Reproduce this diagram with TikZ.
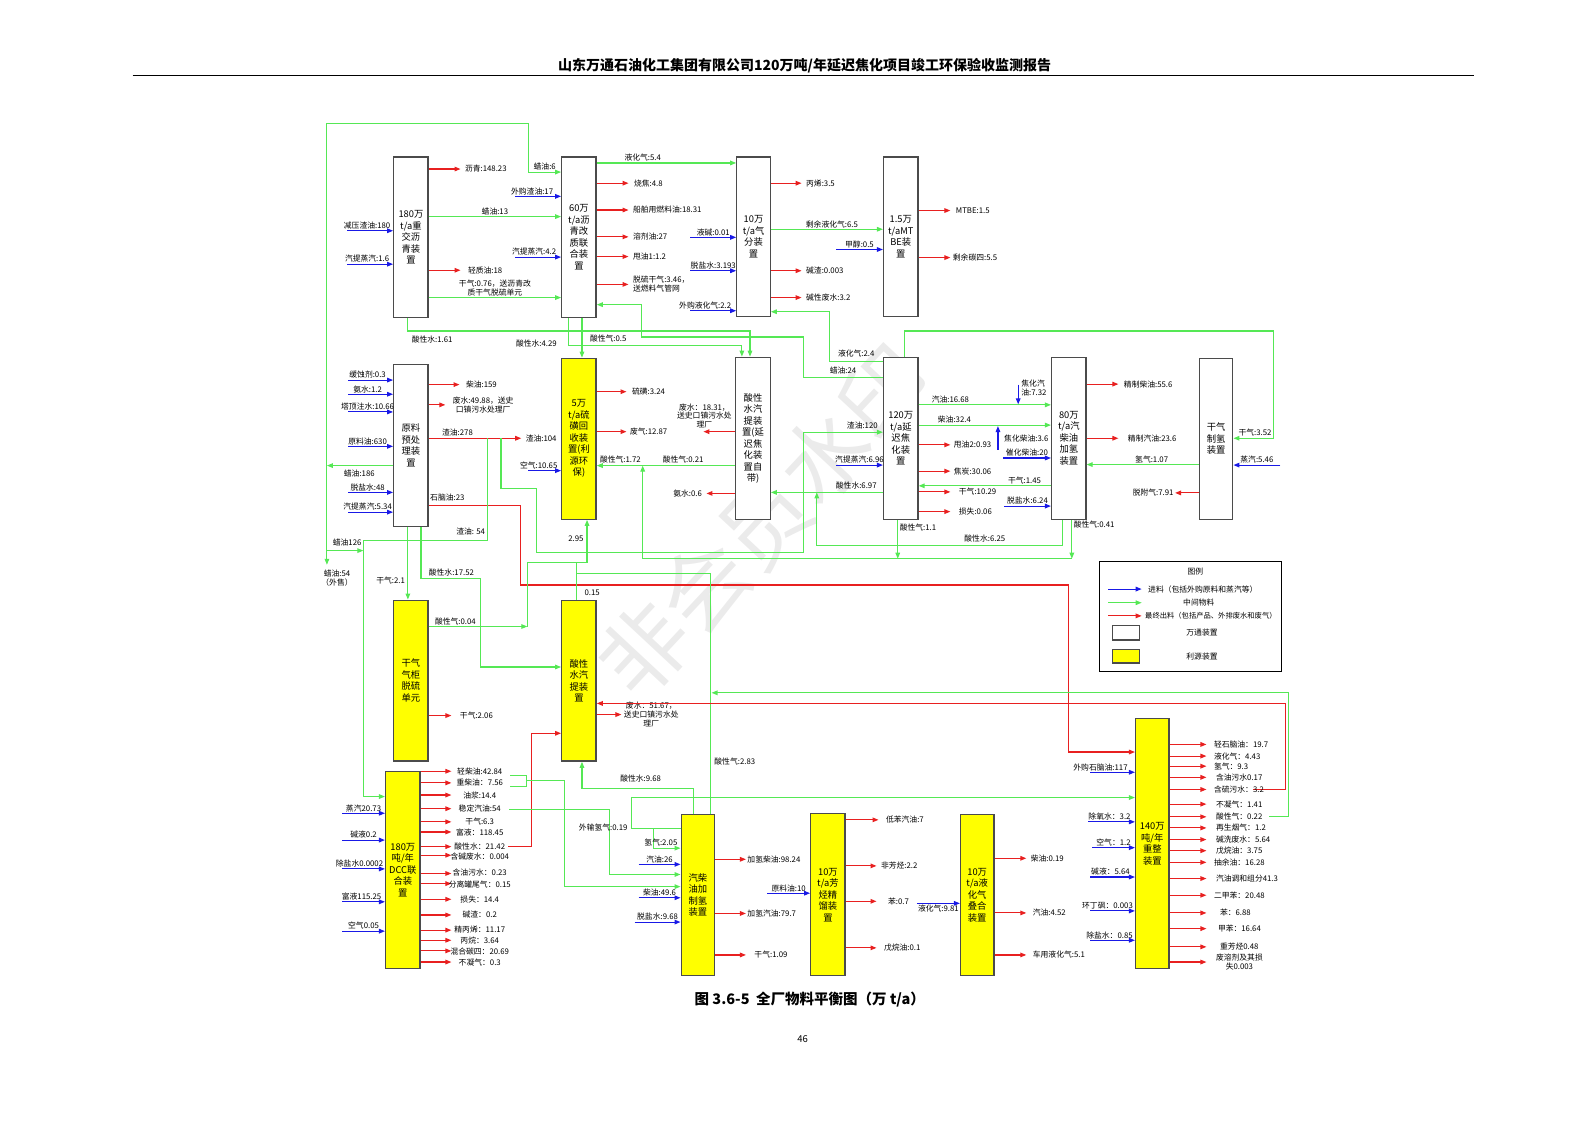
\documentclass[tikz,border=0pt]{standalone}
\usepackage{fontspec}
\setmainfont{Noto Sans CJK SC}
\usepackage{tikz}
\usetikzlibrary{arrows.meta}
\newcommand{\pxu}{1.0121pt}
\newcommand{\labfont}{\fontsize{7.8}{8.8}\selectfont}
\newcommand{\boxfont}{\fontsize{9.3}{11.5}\selectfont}
\definecolor{inblue}{RGB}{25,25,230}
\definecolor{midgreen}{RGB}{85,232,85}
\definecolor{outred}{RGB}{232,32,32}
\definecolor{unityellow}{RGB}{255,255,0}
\definecolor{boxgray}{RGB}{75,75,75}

\begin{document}
\begin{tikzpicture}[x=\pxu, y=-\pxu,
  feedline/.style={draw=inblue, line width=1.1pt, -{Triangle[length=6pt,width=4.6pt]}},
  midline/.style={draw=midgreen, line width=1.1pt, -{Triangle[length=6pt,width=4.6pt]}},
  midpath/.style={draw=midgreen, line width=1.1pt},
  prodline/.style={draw=outred, line width=1.1pt, -{Triangle[length=6pt,width=4.6pt]}},
  lab/.style={font=\labfont, inner sep=1pt, align=center},
  wbox/.style={draw=boxgray, line width=1.3pt, fill=white, inner sep=0pt, align=center, font=\boxfont},
  ybox/.style={wbox, fill=unityellow},
  sz/.style 2 args={minimum width=#1*\pxu, minimum height=#2*\pxu}]
  \useasboundingbox (0,0) rectangle (1568,1109);

  \node[rotate=47, text=black!8, font=\fontsize{88}{88}\selectfont] (wmark) at (755,515) {非会员水印};

  \node[font=\bfseries\fontsize{14}{16}\selectfont] (title) at (795,65) {山东万通石油化工集团有限公司120万吨/年延迟焦化项目竣工环保验收监测报告};
  \draw[line width=0.8pt] (131,74) -- (1456,74);
  \node[font=\bfseries\fontsize{14.5}{16}\selectfont] (caption) at (800,988) {图 3.6-5\ \ 全厂物料平衡图（万 t/a）};
  \node[font=\fontsize{9.5}{11}\selectfont] (pageno) at (793,1027) {46};

  \node[wbox, sz={34}{159}] (B180) at (406,234.5) {180万\\t/a重\\交沥\\青装\\置};
  \node[wbox, sz={34}{159}] (B60) at (572,234.5) {60万\\t/a沥\\青改\\质联\\合装\\置};
  \node[wbox, sz={33}{158}] (Bgas) at (744.5,234) {10万\\t/a气\\分装\\置};
  \node[wbox, sz={34}{158}] (Bmtbe) at (890,234) {1.5万\\t/aMT\\BE装\\置};
  \node[wbox, sz={34}{160}] (Braw) at (406,440) {原料\\预处\\理装\\置};
  \node[ybox, sz={34}{159}] (Bsul) at (572,433.5) {5万\\t/a硫\\磺回\\收装\\置(利\\源环\\保)};
  \node[wbox, sz={34}{160}] (Bsw1) at (744,433) {酸性\\水汽\\提装\\置(延\\迟焦\\化装\\置自\\带)};
  \node[wbox, sz={34}{160}] (Bcok) at (890,433) {120万\\t/a延\\迟焦\\化装\\置};
  \node[wbox, sz={34}{160}] (Bhdt80) at (1056,433) {80万\\t/a汽\\柴油\\加氢\\装置};
  \node[wbox, sz={33}{159}] (Bhyd) at (1201.5,433.5) {干气\\制氢\\装置};
  \node[ybox, sz={34}{159}] (Bdes) at (406,672.5) {干气\\气柜\\脱硫\\单元};
  \node[ybox, sz={34}{159}] (Bsw2) at (572,672.5) {酸性\\水汽\\提装\\置};
  \node[ybox, sz={34}{195}] (Bdcc) at (398,859.5) {180万\\吨/年\\DCC联\\合装\\置};
  \node[ybox, sz={33}{159}] (Bjq) at (689.5,884.5) {汽柴\\油加\\制氢\\装置};
  \node[ybox, sz={34}{160}] (Baro) at (818,884) {10万\\t/a芳\\烃精\\馏装\\置};
  \node[ybox, sz={33}{159}] (Bpol) at (965.5,884.5) {10万\\t/a液\\化气\\叠合\\装置};
  \node[ybox, sz={33}{247}] (Bref) at (1138.5,833.5) {140万\\吨/年\\重整\\装置};

  \coordinate (waxT) at (323,460);
  \draw[midline] (Braw.west |- waxT) -- (waxT);
  \node[lab] (m-wax186) at (355,468) {蜡油:186};
  \draw[midline] (waxT) -- (323,122) -| (522,170) -- (B60.west |- 0,170) node[lab, midway, above] (m-wax6) {蜡油:6};
  \draw[midline] (waxT) -- (323,558);
  \node[lab] (m-wax54) at (333,571) {蜡油:54\\（外售）};
  \draw[midline] (323,544) -- (359,544);
  \node[lab] (m-wax126) at (343,536) {蜡油126};

  \draw[feedline] (343,228) -- (B180.west |- 0,228) node[lab, midway, above, xshift=-3pt] (f-vr) {减压渣油:180};
  \draw[feedline] (343,261) -- (B180.west |- 0,261) node[lab, midway, above, xshift=-3pt] (f-st16) {汽提蒸汽:1.6};
  \draw[prodline] (B180.east |- 0,167) -- (455,167) node[lab, right=3pt] (p-asp) {沥青:148.23};
  \draw[prodline] (B180.east |- 0,267) -- (455,267) node[lab, right=6pt] (p-lo) {轻质油:18};
  \draw[midline] (B180.east |- 0,214) -- (B60.west |- 0,214) node[lab, midway, above] (m-wax13) {蜡油:13};
  \draw[midline] (B180.east |- 0,294) -- (B60.west |- 0,294) node[lab, midway, above] (m-dg076) {干气:0.76，送沥青改\\质干气脱硫单元};
  \draw[midline] (B180.south -| 403,0) |- (741,327) -- (Bsw1.north -| 741,0);
  \node[lab] (m-sw161) at (427,335) {酸性水:1.61};

  \draw[feedline] (509,194) -- (B60.west |- 0,194) node[lab, midway, above, xshift=-6pt] (f-vr17) {外购渣油:17};
  \draw[feedline] (509,254) -- (B60.west |- 0,254) node[lab, midway, above, xshift=-4pt] (f-st42) {汽提蒸汽:4.2};
  \draw[midline] (B60.east |- 0,161) -- (Bgas.west |- 0,161) node[lab, pos=0.33, above] (m-lpg54) {液化气:5.4};
  \draw[prodline] (B60.east |- 0,181) -- (621,181) node[lab, right=4pt] (p-coke48) {烧焦:4.8};
  \draw[prodline] (B60.east |- 0,207.5) -- (621,207.5) node[lab, right=3pt] (p-fo) {船舶用燃料油:18.31};
  \draw[prodline] (B60.east |- 0,234) -- (621,234) node[lab, right=3pt] (p-solv) {溶剂油:27};
  \draw[prodline] (B60.east |- 0,253.5) -- (621,253.5) node[lab, right=3pt] (p-so1) {甩油1:1.2};
  \draw[prodline] (B60.east |- 0,281) -- (621,281) node[lab, right=3pt, align=left] (p-ddg) {脱硫干气:3.46，\\送燃料气管网};
  \draw[midline] (B60.south -| 562,0) |- (733,341) -- (Bsw1.north -| 733,0);
  \node[lab] (m-sw429) at (530,339) {酸性水:4.29};
  \draw[midline] (B60.south -| 575,0) -- (Bsul.north -| 575,0);
  \node[lab] (m-ag05) at (601,334) {酸性气:0.5};

  \draw[feedline] (682,234.5) -- (Bgas.west |- 0,234.5) node[lab, midway, above] (f-naoh) {液碱:0.01};
  \draw[feedline] (682,267.5) -- (Bgas.west |- 0,267.5) node[lab, midway, above] (f-dw3) {脱盐水:3.193};
  \draw[feedline] (682,307) -- (Bgas.west |- 0,307) node[lab, midway, above, xshift=-8pt] (f-lpg22) {外购液化气:2.2};
  \draw[prodline] (Bgas.east |- 0,181) -- (792,181) node[lab, right=3pt] (p-prop) {丙烯:3.5};
  \draw[prodline] (Bgas.east |- 0,267.5) -- (792,267.5) node[lab, right=3pt] (p-cr) {碱渣:0.003};
  \draw[prodline] (Bgas.east |- 0,294) -- (792,294) node[lab, right=3pt] (p-cw) {碱性废水:3.2};
  \draw[midline] (Bgas.east |- 0,226.5) -- (Bmtbe.west |- 0,226.5) node[lab, midway, above, xshift=5pt] (m-lpg65) {剩余液化气:6.5};
  \draw[feedline] (826,246.5) -- (Bmtbe.west |- 0,246.5) node[lab, midway, above] (f-meoh) {甲醇:0.5};
  \draw[prodline] (Bmtbe.east |- 0,208) -- (939,208) node[lab, right=4pt] (p-mtbe) {MTBE:1.5};
  \draw[prodline] (Bmtbe.east |- 0,254.5) -- (939,254.5) node[lab, right=1pt] (p-c4) {剩余碳四:5.5};

  \draw[midline] (Bcok.west |- 0,357) -| (820,308) -- (Bgas.east |- 0,308);
  \node[lab] (m-lpg24) at (846,349) {液化气:2.4};
  \draw[midline] (Bcok.west |- 0,373) -| (794,333) -| (634,301) -- (B60.east |- 0,301);
  \node[lab] (m-wax24) at (833,366) {蜡油:24};

  \draw[feedline] (344,375.5) -- (Braw.west |- 0,375.5) node[lab, midway, above, xshift=-3pt] (f-inh) {缓蚀剂:0.3};
  \draw[feedline] (344,389.5) -- (Braw.west |- 0,389.5) node[lab, midway, above, xshift=-3pt] (f-amm) {氨水:1.2};
  \draw[feedline] (344,407) -- (Braw.west |- 0,407) node[lab, midway, above, xshift=-3pt] (f-tw) {塔顶注水:10.66};
  \draw[feedline] (344,441) -- (Braw.west |- 0,441) node[lab, midway, above, xshift=-3pt] (f-crude) {原料油:630};
  \draw[feedline] (344,486.5) -- (Braw.west |- 0,486.5) node[lab, midway, above, xshift=-3pt] (f-dw48) {脱盐水:48};
  \draw[feedline] (344,506) -- (Braw.west |- 0,506) node[lab, midway, above, xshift=-3pt] (f-st534) {汽提蒸汽:5.34};
  \draw[prodline] (Braw.east |- 0,380) -- (454,380) node[lab, right=5pt] (p-dsl159) {柴油:159};
  \draw[prodline] (Braw.east |- 0,400) -- (440,400) node[lab, right=6pt] (p-ww4988) {废水:49.88，送史\\口镇污水处理厂};
  \draw[prodline] (Braw.east |- 0,433) -- (515,433) node[lab, right=3pt] (p-res104) {渣油:104};
  \node[lab] (p-res278) at (452,427) {渣油:278};
  \draw[prodline] (Braw.east |- 0,499) -| (514,578) -| (1056,743) -- (Bref.west |- 0,743);
  \node[lab] (p-nap23) at (442,492) {石脑油:23};
  \draw[midline] (495,433) |- (530,482.5) |- (794,546) |- (Bcok.west |- 0,427);
  \node[lab] (m-res120) at (852,420) {渣油:120};
  \draw[midline] (482,433) |- (359,534) -- (359,787) -- (Bdcc.west |- 0,787);
  \node[lab] (m-res54) at (465,525) {渣油: 54};
  \draw[midline] (Braw.south -| 403,0) -- (Bdes.north -| 403,0);
  \node[lab] (m-dg21) at (386,574) {干气:2.1};
  \draw[midline] (Braw.south -| 416,0) |- (475,571.5) |- (Bsw2.west |- 0,659);
  \node[lab] (m-sw1752) at (446,566) {酸性水:17.52};

  \draw[prodline] (Bsul.east |- 0,387) -- (619,387) node[lab, right=4pt] (p-sulf) {硫磺:3.24};
  \draw[prodline] (Bsul.east |- 0,426.5) -- (619,426.5) node[lab, right=2pt] (p-offg) {废气:12.87};
  \draw[feedline] (522,465) -- (Bsul.west |- 0,465) node[lab, midway, above, xshift=-6pt] (f-air) {空气:10.65};
  \draw[midline] (Bsw1.west |- 0,460) -- (Bsul.east |- 0,460);
  \node[lab] (m-ag172) at (613,454) {酸性气:1.72};
  \node[lab] (m-ag021) at (675,454) {酸性气:0.21};
  \draw[midline] (Bhdt80.south -| 1059,0) -- (1059,552);
  \draw[midline] (Bcok.south -| 887,0) -- (887,552);
  \draw[midline] (1059,552) -| (635,460);
  \node[lab] (m-ag11) at (907,521) {酸性气:1.1};
  \node[lab] (m-ag041) at (1081,518) {酸性气:0.41};
  \draw[midline] (Bhdt80.south -| 1050,0) |- (807,539) -- (807,486.5);
  \node[lab] (m-sw625) at (973,532.5) {酸性水:6.25};
  \draw[midline] (Bcok.west |- 0,486.5) -- (Bsw1.east |- 0,486.5);
  \node[lab] (m-sw697) at (846,480) {酸性水:6.97};
  \draw[feedline] (826,459.5) -- (Bcok.west |- 0,459.5) node[lab, midway, above] (f-st696) {汽提蒸汽:6.96};
  \draw[prodline] (Bsw1.west |- 0,426.5) -- (695,426.5);
  \node[lab] (p-ww1831) at (696,411) {废水：18.31，\\送史口镇污水处\\理厂};
  \draw[prodline] (Bsw1.west |- 0,487.5) -- (698,487.5) node[lab, left=3pt] (p-amm) {氨水:0.6};

  \draw[midline] (Bcok.east |- 0,400) -- (Bhdt80.west |- 0,400) node[lab, pos=0.24, above] (m-gas1668) {汽油:16.68};
  \draw[feedline] (1006,380) -- (1006,399.5);
  \node[lab, anchor=west, align=left] (f-cg732) at (1008,383) {焦化汽\\油:7.32};
  \draw[midline] (Bcok.east |- 0,420) -- (Bhdt80.west |- 0,420) node[lab, pos=0.27, above] (m-dsl324) {柴油:32.4};
  \draw[feedline] (986,444.5) -- (986,421);
  \node[lab] (f-cd36) at (1014,433) {焦化柴油:3.6};
  \draw[prodline] (Bcok.east |- 0,439.5) -- (939,439.5) node[lab, right=2pt] (p-so2) {甩油2:0.93};
  \draw[feedline] (991,452.5) -- (Bhdt80.west |- 0,452.5) node[lab, midway, above] (f-fcc20) {催化柴油:20};
  \draw[prodline] (Bcok.east |- 0,465.5) -- (939,465.5) node[lab, right=2pt] (p-coke3006) {焦炭:30.06};
  \draw[midline] (Bhdt80.west |- 0,480) -- (Bcok.east |- 0,480) node[lab, pos=0.2, above] (m-dg145) {干气:1.45};
  \draw[prodline] (Bcok.east |- 0,486) -- (939,486) node[lab, right=7pt] (p-dg1029) {干气:10.29};
  \draw[feedline] (992,500) -- (Bhdt80.west |- 0,500) node[lab, midway, above] (f-dw624) {脱盐水:6.24};
  \draw[prodline] (Bcok.east |- 0,505.5) -- (939,505.5) node[lab, right=7pt] (p-loss006) {损失:0.06};
  \draw[midline] (Bcok.north -| 894,0) |- (1258,327) |- (Bhyd.east |- 0,433);
  \node[lab] (m-dg352) at (1240,427) {干气:3.52};

  \draw[prodline] (Bhdt80.east |- 0,379.5) -- (1105,379.5) node[lab, right=4pt] (p-rd) {精制柴油:55.6};
  \draw[prodline] (Bhdt80.east |- 0,433) -- (1105,433) node[lab, right=8pt] (p-rg) {精制汽油:23.6};
  \draw[midline] (Bhyd.west |- 0,459) -- (Bhdt80.east |- 0,459) node[lab, pos=0.42, above] (m-h2107) {氢气:1.07};
  \draw[feedline] (1265,459.5) -- (Bhyd.east |- 0,459.5) node[lab, midway, above] (f-st546) {蒸汽:5.46};
  \draw[prodline] (Bhyd.west |- 0,487) -- (1161,487) node[lab, left=0pt] (p-tail) {脱附气:7.91};

  \draw[midline] (Bdes.east |- 0,619) -- (521,619) node[lab, pos=0.27, above] (m-ag004) {酸性气:0.04};
  \draw[midline] (521,619) |- (580,556) -- (Bsul.south -| 580,0);
  \node[lab] (m-295) at (569,532) {2.95};
  \draw[midpath] (Bsw2.north -| 570,0) -- (570,556);
  \node[lab] (m-015) at (585,586) {0.15};
  \draw[midpath] (Bjq.north -| 702,0) |- (570,566.5);
  \node[lab] (m-ag283) at (726,752) {酸性气:2.83};
  \draw[prodline] (Bdes.east |- 0,707) -- (446,707) node[lab, right=7pt] (p-dg206) {干气:2.06};
  \draw[prodline] (Bsw2.east |- 0,706) -- (614,706) node[lab, right=1pt] (p-ww5167) {废水：51.67，\\送史口镇污水处\\理厂};
  \draw[prodline] (1238,780) -| (1270,695) -- (Bsw2.east |- 0,695);
  \draw[prodline] (502,836.5) -| (525,724.5) -- (Bsw2.west |- 0,724.5);
  \draw[midline] (Bjq.north -| 685,0) |- (575,779) -- (Bsw2.south -| 575,0);
  \node[lab] (m-sw968) at (633,769) {酸性水:9.68};
  \draw[midline] (1254,807) -| (1273,684.5) -- (703,684.5);

  \draw[feedline] (338,803.5) -- (Bdcc.west |- 0,803.5) node[lab, midway, above] (f-st2073) {蒸汽20.73};
  \draw[feedline] (338,830) -- (Bdcc.west |- 0,830) node[lab, midway, above] (f-alk02) {碱液0.2};
  \draw[feedline] (338,858.5) -- (Bdcc.west |- 0,858.5) node[lab, midway, above, xshift=-4pt] (f-dw0002) {除盐水0.0002};
  \draw[feedline] (338,891) -- (Bdcc.west |- 0,891) node[lab, midway, above, xshift=-2pt] (f-rich) {富液115.25};
  \draw[feedline] (338,920) -- (Bdcc.west |- 0,920) node[lab, midway, above] (f-air005) {空气0.05};
  \draw[prodline] (Bdcc.east |- 0,762) -- (446,762) node[lab] (d-lco) at (474,762) {轻柴油:42.84};
  \draw[prodline] (Bdcc.east |- 0,773.5) -- (446,773.5) node[lab] (d-hco) at (474,773.5) {重柴油：7.56};
  \draw[prodline] (Bdcc.east |- 0,785.5) -- (446,785.5) node[lab] (d-slurry) at (474,785.5) {油浆:14.4};
  \draw[prodline] (Bdcc.east |- 0,799) -- (446,799) node[lab] (d-sg) at (474,799) {稳定汽油:54};
  \draw[prodline] (Bdcc.east |- 0,812) -- (446,812) node[lab] (d-dg) at (474,811.5) {干气:6.3};
  \draw[prodline] (Bdcc.east |- 0,822) -- (446,822) node[lab] (d-rich) at (474,822.5) {富液：118.45};
  \draw[prodline] (Bdcc.east |- 0,836.5) -- (446,836.5) node[lab] (d-sw) at (474,836) {酸性水：21.42};
  \draw[prodline] (Bdcc.east |- 0,845) -- (446,845) node[lab] (d-aw) at (474,846.5) {含碱废水：0.004};
  \draw[prodline] (Bdcc.east |- 0,863) -- (446,863) node[lab] (d-ow) at (474,862.5) {含油污水：0.23};
  \draw[prodline] (Bdcc.east |- 0,873) -- (446,873) node[lab] (d-tail) at (474,873.5) {分离罐尾气：0.15};
  \draw[prodline] (Bdcc.east |- 0,888.5) -- (446,888.5) node[lab] (d-loss) at (474,888.5) {损失：14.4};
  \draw[prodline] (Bdcc.east |- 0,904) -- (446,904) node[lab] (d-sludge) at (474,904) {碱渣：0.2};
  \draw[prodline] (Bdcc.east |- 0,919) -- (446,919) node[lab] (d-prop) at (474,918.5) {精丙烯：11.17};
  \draw[prodline] (Bdcc.east |- 0,929) -- (446,929) node[lab] (d-propane) at (474,929) {丙烷：3.64};
  \draw[prodline] (Bdcc.east |- 0,939.5) -- (446,939.5) node[lab] (d-c4) at (474,940) {混合碳四：20.69};
  \draw[prodline] (Bdcc.east |- 0,950.5) -- (446,950.5) node[lab] (d-nc) at (474,951) {不凝气：0.3};
  \draw[midline] (503,799.5) -| (602,864) -- (Bjq.west |- 0,864);
  \draw[midpath] (504,766) -| (520,777) -- (504,777);
  \draw[midline] (520,771) -| (558,876) -- (Bjq.west |- 0,876);

  \draw[midline] (Bjq.west |- 0,818.5) -| (624,788) -- (Bref.west |- 0,788);
  \node[lab] (m-h2019) at (596,818) {外输氢气:0.19};
  \draw[midline] (645.5,818.5) |- (Bjq.west |- 0,838);
  \node[lab] (m-h2205) at (653,832) {氢气:2.05};
  \draw[feedline] (631,854) -- (Bjq.west |- 0,854) node[lab, midway, above] (f-gas26) {汽油:26};
  \draw[feedline] (631,887) -- (Bjq.west |- 0,887) node[lab, midway, above] (f-dsl496) {柴油:49.6};
  \draw[feedline] (627,911) -- (Bjq.west |- 0,911) node[lab, midway, above] (f-dw968) {脱盐水:9.68};
  \draw[prodline] (Bjq.east |- 0,849) -- (737,849) node[lab, right=0pt] (p-hd) {加氢柴油:98.24};
  \draw[prodline] (Bjq.east |- 0,902.5) -- (737,902.5) node[lab, right=0pt] (p-hg) {加氢汽油:79.7};
  \draw[prodline] (Bjq.east |- 0,943.5) -- (737,943.5) node[lab, right=7pt] (p-dg109) {干气:1.09};

  \draw[feedline] (758,882.5) -- (Baro.west |- 0,882.5) node[lab, midway, above] (f-feed10) {原料油:10};
  \draw[prodline] (Baro.east |- 0,810) -- (868,810) node[lab, right=6pt] (p-lbg) {低苯汽油:7};
  \draw[prodline] (Baro.east |- 0,855.5) -- (866,855.5) node[lab, right=3pt] (p-na) {非芳烃:2.2};
  \draw[prodline] (Baro.east |- 0,890.5) -- (866,890.5) node[lab, right=10pt] (p-bz07) {苯:0.7};
  \draw[prodline] (Baro.east |- 0,936.5) -- (866,936.5) node[lab, right=6pt] (p-pent01) {戊烷油:0.1};

  \draw[feedline] (906,892.5) -- (Bpol.west |- 0,892.5) node[lab, midway, below] (f-lpg981) {液化气:9.81};
  \draw[prodline] (Bpol.east |- 0,848) -- (1014,848) node[lab, right=3pt] (p-dsl019) {柴油:0.19};
  \draw[prodline] (Bpol.east |- 0,902) -- (1014,902) node[lab, right=5pt] (p-gas452) {汽油:4.52};
  \draw[prodline] (Bpol.east |- 0,943.5) -- (1014,943.5) node[lab, right=5pt] (p-alpg) {车用液化气:5.1};

  \draw[feedline] (1077,763) -- (Bref.west |- 0,763) node[lab, midway, above, xshift=-12pt] (f-nap117) {外购石脑油:117};
  \draw[feedline] (1075,812) -- (Bref.west |- 0,812) node[lab, midway, above, xshift=-2pt] (f-bfw) {除氧水：3.2};
  \draw[feedline] (1079,837.5) -- (Bref.west |- 0,837.5) node[lab, midway, above] (f-air12) {空气：1.2};
  \draw[feedline] (1077,866.5) -- (Bref.west |- 0,866.5) node[lab, midway, above, xshift=-2pt] (f-alk564) {碱液：5.64};
  \draw[feedline] (1077,900) -- (Bref.west |- 0,900) node[lab, midway, above, xshift=-5pt] (f-sulfo) {环丁砜：0.003};
  \draw[feedline] (1077,929) -- (Bref.west |- 0,929) node[lab, midway, above, xshift=-3pt] (f-dw085) {除盐水：0.85};
  \draw[prodline] (Bref.east |- 0,735.5) -- (1192,735.5) node[lab, right=6pt] (r-ln) {轻石脑油：19.7};
  \draw[prodline] (Bref.east |- 0,747) -- (1192,747) node[lab, right=6pt] (r-lpg) {液化气：4.43};
  \draw[prodline] (Bref.east |- 0,757) -- (1192,757) node[lab, right=6pt] (r-h2) {氢气：9.3};
  \draw[prodline] (Bref.east |- 0,768) -- (1192,768) node[lab, right=8pt] (r-ow) {含油污水0.17};
  \draw[prodline] (Bref.east |- 0,780) -- (1192,780) node[lab, right=6pt] (r-sw) {含硫污水：3.2};
  \draw[prodline] (Bref.east |- 0,794.5) -- (1192,794.5) node[lab, right=8pt] (r-nc) {不凝气：1.41};
  \draw[prodline] (Bref.east |- 0,807) -- (1192,807) node[lab, right=8pt] (r-ag) {酸性气：0.22};
  \draw[prodline] (Bref.east |- 0,818) -- (1192,818) node[lab, right=8pt] (r-flue) {再生烟气：1.2};
  \draw[prodline] (Bref.east |- 0,829.5) -- (1192,829.5) node[lab, right=8pt] (r-aw) {碱洗废水：5.64};
  \draw[prodline] (Bref.east |- 0,840.5) -- (1192,840.5) node[lab, right=8pt] (r-pent) {戊烷油：3.75};
  \draw[prodline] (Bref.east |- 0,852) -- (1192,852) node[lab, right=6pt] (r-raff) {抽余油：16.28};
  \draw[prodline] (Bref.east |- 0,868) -- (1192,868) node[lab, right=8pt] (r-blend) {汽油调和组分41.3};
  \draw[prodline] (Bref.east |- 0,884.5) -- (1192,884.5) node[lab, right=6pt] (r-xyl) {二甲苯：20.48};
  \draw[prodline] (Bref.east |- 0,902) -- (1192,902) node[lab, right=12pt] (r-bz) {苯：6.88};
  \draw[prodline] (Bref.east |- 0,917.5) -- (1192,917.5) node[lab, right=10pt] (r-tol) {甲苯：16.64};
  \draw[prodline] (Bref.east |- 0,935.5) -- (1192,935.5) node[lab, right=12pt] (r-ha) {重芳烃0.48};
  \draw[prodline] (Bref.east |- 0,950.5) -- (1192,950.5) node[lab, right=8pt] (r-solv) {废溶剂及其损\\失0.003};

  \node[draw=black, line width=0.8pt, sz={180}{108}, inner sep=0pt] (legend) at (1176,609) {};
  \node[lab] (lg-title) at (1181,565) {图例};
  \draw[feedline] (1095,582) -- (1128,582) node[lab, right=5pt] (lg-feed) {进料（包括外购原料和蒸汽等）};
  \draw[midline] (1095,595.5) -- (1128,595.5) node[lab, right=40pt] (lg-mid) {中间物料};
  \draw[prodline] (1095,608.5) -- (1128,608.5) node[lab, right=2pt, font=\fontsize{7.3}{8.4}\selectfont] (lg-prod) {最终出料（包括产品、外排废水和废气）};
  \node[wbox, sz={27}{14.5}] (lg-wbox) at (1112.5,625) {};
  \node[lab, anchor=west] (lg-wt) at (1171,625) {万通装置};
  \node[ybox, sz={27}{13}] (lg-ybox) at (1112.5,648.5) {};
  \node[lab, anchor=west] (lg-yl) at (1171,648.5) {利源装置};
\end{tikzpicture}
\end{document}
